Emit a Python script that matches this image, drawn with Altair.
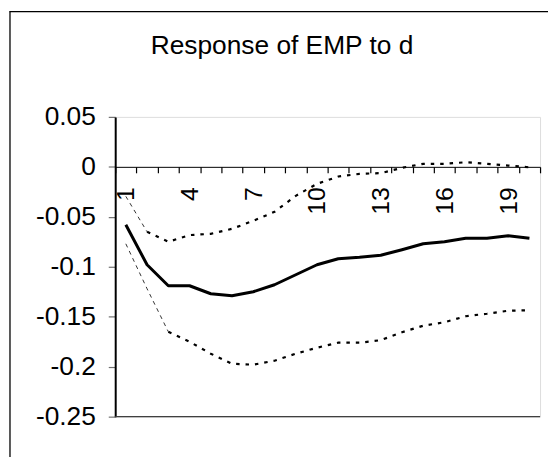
import altair as alt
import pandas as pd

TITLE = "Response of EMP to d"
steps = list(range(1, 21))
response = [-0.058, -0.098, -0.119, -0.119, -0.127, -0.129, -0.125, -0.118, -0.108, -0.098,
            -0.092, -0.0905, -0.0885, -0.083, -0.077, -0.075, -0.0715, -0.0715, -0.069, -0.0715]
upper = [-0.0295, -0.065, -0.075, -0.0683, -0.067, -0.062, -0.054, -0.045, -0.029, -0.017,
         -0.0097, -0.007, -0.0063, -0.001, 0.003, 0.003, 0.0046, 0.003, 0.0013, -0.0005]
lower = [-0.077, -0.122, -0.165, -0.175, -0.187, -0.197, -0.198, -0.194, -0.187, -0.181,
         -0.176, -0.176, -0.1735, -0.1655, -0.159, -0.1555, -0.1495, -0.147, -0.144, -0.1435]
y_ticks = [0.05, 0, -0.05, -0.1, -0.15, -0.2, -0.25]
y_domain = [-0.25, 0.05]

W, H = 428, 302
FONT = "Liberation Sans"

rows = []
for name, vals in (("response", response), ("upper", upper), ("lower", lower)):
    for s, v in zip(steps, vals):
        rows.append({"step": s, "series": name, "value": v})
df = pd.DataFrame(rows)

zero_offset = -H * (0 - y_domain[0]) / (y_domain[1] - y_domain[0])

x_enc = alt.X(
    "step:O",
    scale=alt.Scale(type="band", paddingInner=0, paddingOuter=0),
    axis=alt.Axis(
        title=None, orient="bottom", offset=zero_offset, grid=False,
        domain=True, ticks=True,
        domainColor="black", domainWidth=1, tickColor="black", tickWidth=1.2, tickSize=6,
        tickBand="extent", labelAngle=270, labelAlign="right", labelBaseline="middle",
        labelPadding=14, labelFontSize=25, labelFont=FONT, labelColor="black",
        labelOverlap=False,
        labelExpr="(datum.value - 1) % 3 == 0 ? datum.label : ''",
    ),
)
y_enc = alt.Y(
    "value:Q",
    scale=alt.Scale(domain=y_domain, nice=False, zero=False),
    axis=alt.Axis(
        title=None, values=y_ticks, grid=False, domainColor="black", domainWidth=2,
        ticks=True, tickColor="#707070", tickSize=7, tickWidth=1.2, labelPadding=13,
        labelFontSize=26.5, labelFont=FONT, labelColor="black",
        labelExpr="datum.value < 0 ? '-' + format(-datum.value, '.2~f') : format(datum.value, '.2~f')",
    ),
)

base = alt.Chart(df).encode(x=x_enc, y=y_enc)

solid = base.transform_filter("datum.series == 'response'").mark_line(
    color="black", strokeWidth=3, strokeJoin="round")
up_thick = base.transform_filter("datum.series == 'upper' && datum.step >= 2").mark_line(
    color="black", strokeWidth=2.2, strokeDash=[3.5, 6])
up_thin = base.transform_filter("datum.series == 'upper' && datum.step <= 2").mark_line(
    color="#333333", strokeWidth=1, strokeDash=[4, 4])
lo_thick = base.transform_filter("datum.series == 'lower' && datum.step >= 3").mark_line(
    color="black", strokeWidth=2.2, strokeDash=[3.5, 6])
lo_thin = base.transform_filter("datum.series == 'lower' && datum.step <= 3").mark_line(
    color="#333333", strokeWidth=1, strokeDash=[4, 4])

one = pd.DataFrame({"label": [TITLE]})
frame_top = alt.Chart(one).mark_rule(color="black", strokeWidth=1.3).encode(
    x=alt.value(-106.5), x2=alt.value(436), y=alt.value(-106))
frame_left = alt.Chart(one).mark_rule(color="black", strokeWidth=1.3).encode(
    x=alt.value(-106), y=alt.value(-106.5), y2=alt.value(H + 80))
bottom = alt.Chart(one).mark_rule(color="#404040", strokeWidth=1.3).encode(
    x=alt.value(0), x2=alt.value(W), y=alt.value(H))
title = alt.Chart(one).mark_text(
    font=FONT, fontSize=26.5, align="center", baseline="alphabetic", color="black"
).encode(x=alt.value(168), y=alt.value(-63.7), text="label:N")

chart = alt.layer(frame_top, frame_left, bottom, title, solid, up_thick, up_thin, lo_thick, lo_thin).properties(
    width=W, height=H,
    autosize=alt.AutoSizeParams(type="none"),
    padding={"left": 108, "top": 108, "right": 8, "bottom": 45},
).configure_view(stroke="#808080", strokeWidth=1).configure(background="white")

chart.save("out.html", embed_options={"renderer": "svg", "actions": False})
